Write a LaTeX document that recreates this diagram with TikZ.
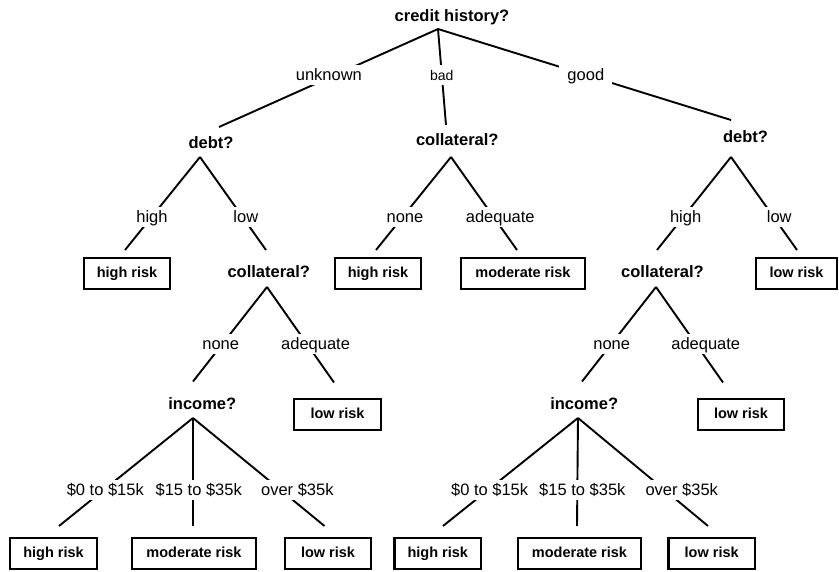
\documentclass[tikz,border=0pt]{standalone}
\usepackage{fontspec}
\setmainfont{Liberation Sans}
\begin{document}
\begin{tikzpicture}[x=1pt,y=-1pt,
  q/.style={font=\fontsize{16.5}{18}\selectfont\bfseries, inner sep=0pt, anchor=base},
  leaf/.style={draw, line width=2.4pt, font=\fontsize{14.5}{16}\selectfont\bfseries,
    minimum width=86.5pt, minimum height=30.5pt, inner sep=0pt, text height=10.5pt, text depth=3pt},
  wide/.style={minimum width=123.5pt},
  lbl/.style={fill=white, font=\fontsize{16.5}{18}\selectfont, inner xsep=3pt, inner ysep=1.5pt,
    text height=14pt, text depth=3pt},
  conn/.style={line width=1.9pt}]
\useasboundingbox (0,0) rectangle (839,571);
\fill[white] (0,0) rectangle (839,571);
% question nodes
\node[q] (root) at (452,21.5) {credit history?};
\node[q] (debtL) at (211,148.3) {debt?};
\node[q] (collM) at (457.3,145) {collateral?};
\node[q] (debtR) at (745.5,142.7) {debt?};
\node[q] (collL) at (268.8,277.3) {collateral?};
\node[q] (collR) at (662.5,277.3) {collateral?};
\node[q] (incL) at (202.3,409.3) {income?};
\node[q] (incR) at (584.2,409.3) {income?};
% leaves
\node[leaf] (hrA) at (127,273.5) {high risk};
\node[leaf] (hrB) at (378,273.5) {high risk};
\node[leaf,wide] (mrB) at (523,273.5) {moderate risk};
\node[leaf,minimum width=81.5pt] (lrA) at (796.5,273.5) {low risk};
\node[leaf] (lrL) at (337.5,414.5) {low risk};
\node[leaf] (lrR) at (741,414.5) {low risk};
\node[leaf] (hrL) at (53.5,553.5) {high risk};
\node[leaf,wide] (mrL) at (194,553.5) {moderate risk};
\node[leaf] (lrL2) at (328,553.5) {low risk};
\node[leaf] (hrR) at (437.8,553.5) {high risk};
\node[leaf,wide] (mrR) at (579.5,553.5) {moderate risk};
\node[leaf] (lrR2) at (711.7,553.5) {low risk};
% connector end points
\coordinate (root-o) at (438,29);
\coordinate (debtL-i) at (219,127);
\coordinate (debtL-o) at (200,157);
\coordinate (collM-i) at (446,125);
\coordinate (collM-o) at (451,157);
\coordinate (debtR-i) at (731,120);
\coordinate (debtR-o) at (731,157);
\coordinate (hrA-i) at (125,250);
\coordinate (collL-i) at (266,250);
\coordinate (collL-o) at (267,287);
\coordinate (hrB-i) at (376,250);
\coordinate (mrB-i) at (517,250);
\coordinate (collR-i) at (657,250);
\coordinate (lrA-i) at (797,250);
\coordinate (collR-o) at (656,287);
\coordinate (incL-i) at (193,381.5);
\coordinate (lrL-i) at (334,382.5);
\coordinate (incL-o) at (193,418);
\coordinate (incR-i) at (582,381.5);
\coordinate (lrR-i) at (723,382.5);
\coordinate (incR-o) at (578,418);
\coordinate (hrL-i) at (59,526);
\coordinate (mrL-i) at (193,526);
\coordinate (lrL2-i) at (324.5,526);
\coordinate (hrR-i) at (443,526);
\coordinate (mrR-i) at (577,526);
\coordinate (lrR2-i) at (708,526);
% connectors
\draw[conn] (root-o) -- node[lbl,pos=0.471,xshift=-6pt]{unknown} (debtL-i);
\draw[conn] (root-o) -- node[lbl,pos=0.481,font=\fontsize{14}{16}\selectfont]{bad} (collM-i);
\draw[conn] (root-o) -- node[lbl,pos=0.508,xshift=-1pt,inner xsep=8pt]{good} (debtR-i);
\draw[conn] (debtL-o) -- node[lbl,pos=0.64]{high} (hrA-i);
\draw[conn] (debtL-o) -- node[lbl,pos=0.64,xshift=3.6pt]{low} (collL-i);
\draw[conn] (collM-o) -- node[lbl,pos=0.64,xshift=2pt]{none} (hrB-i);
\draw[conn] (collM-o) -- node[lbl,pos=0.64,xshift=7pt]{adequate} (mrB-i);
\draw[conn] (debtR-o) -- node[lbl,pos=0.64,xshift=2pt]{high} (collR-i);
\draw[conn] (debtR-o) -- node[lbl,pos=0.64,xshift=6pt]{low} (lrA-i);
\draw[conn] (collL-o) -- node[lbl,pos=0.598,xshift=-2pt]{none} (incL-i);
\draw[conn] (collL-o) -- node[lbl,pos=0.598,xshift=8.5pt]{adequate} (lrL-i);
\draw[conn] (collR-o) -- node[lbl,pos=0.598]{none} (incR-i);
\draw[conn] (collR-o) -- node[lbl,pos=0.598,xshift=9.7pt]{adequate} (lrR-i);
\draw[conn] (incL-o) -- node[lbl,pos=0.662,xshift=1pt]{\$0 to \$15k} (hrL-i);
\draw[conn] (incL-o) -- node[lbl,pos=0.662,xshift=5.7pt]{\$15 to \$35k} (mrL-i);
\draw[conn] (incL-o) -- node[lbl,pos=0.662,xshift=17.3pt]{over \$35k} (lrL2-i);
\draw[conn] (incR-o) -- node[lbl,pos=0.662,xshift=1pt]{\$0 to \$15k} (hrR-i);
\draw[conn] (incR-o) -- node[lbl,pos=0.662,xshift=5pt]{\$15 to \$35k} (mrR-i);
\draw[conn] (incR-o) -- node[lbl,pos=0.662,xshift=17.7pt]{over \$35k} (lrR2-i);
\end{tikzpicture}
\end{document}
